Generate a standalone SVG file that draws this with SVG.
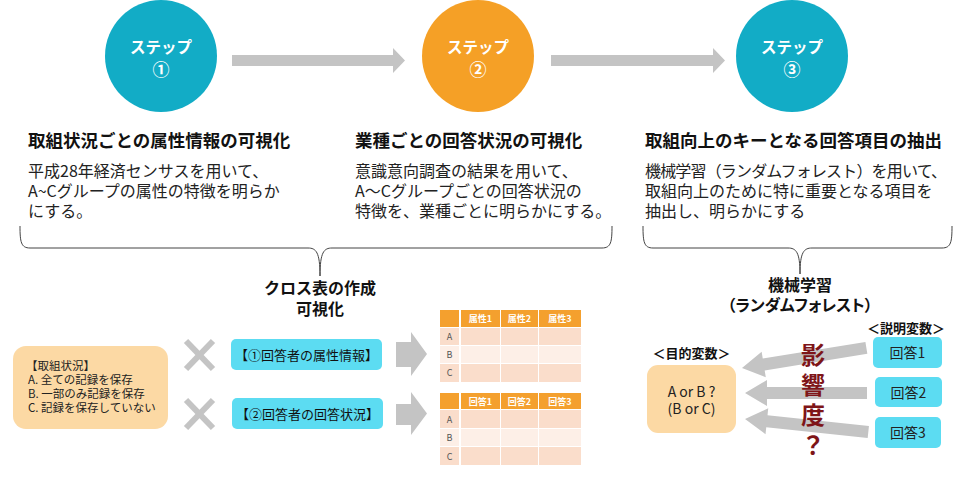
<svg xmlns="http://www.w3.org/2000/svg" width="960" height="480" viewBox="0 0 960 480">
<defs>
<style>
text{font-family:"Noto Sans CJK JP","Noto Sans",sans-serif;}
.stepT{fill:#fff;font-weight:bold;font-size:15.5px;text-anchor:middle;}
.stepN{fill:#fff;font-weight:bold;font-size:17px;text-anchor:middle;}
.head{fill:#111;font-weight:bold;font-size:17.5px;}
.body{fill:#222;font-size:16px;}
.lbl{fill:#111;font-weight:bold;font-size:16px;text-anchor:middle;}
.small{fill:#222;font-size:11.5px;}
.cbox{fill:#5CDCF2;}
.obox{fill:#FCD9A4;}
.gray{fill:#C4C4C4;}
.brace{fill:none;stroke:#444;stroke-width:1;}
.th{fill:#fff;font-weight:bold;font-size:9px;text-anchor:middle;}
.tr{fill:#555;font-size:9px;text-anchor:middle;}
.hdr{fill:#F4A02E;}
.r1{fill:#FADDCB;}
.r2{fill:#FDEFE7;}
.xm{stroke:#C4C4C4;stroke-width:6;}
.ctr{fill:#222;font-size:14px;text-anchor:middle;}
.imp{fill:#7E1518;font-weight:bold;font-size:24px;}
</style>
</defs>
<rect width="960" height="480" fill="#fff"/>

<g id="connectors">
<polygon class="gray" points="232,55 393,55 393,48 405,60.5 393,73 393,66 232,66"/>
<polygon class="gray" points="551,55 713,55 713,48 725,60.5 713,73 713,66 551,66"/>
<path class="brace" d="M20,226 C20,242 21,248 30,248 L308,248 C316,248 320,252 320,276 C320,252 324,248 332,248 L602,248 C611,248 612,242 612,226"/>
<path class="brace" d="M643,226 C643,242 644,248 653,248 L788,248 C796,248 800,252 800,274 C800,252 804,248 812,248 L942,248 C951,248 952,242 952,226"/>
<polygon class="gray" points="396,342 411,342 411,332 427,354 411,376 411,367 396,367"/>
<polygon class="gray" points="396,404 411,404 411,392 427,413.5 411,435 411,425 396,425"/>
<polygon class="gray" transform="translate(742,368) rotate(-9.2)" points="0,0 22,-13 22,-6 126,-6 126,6 22,6 22,13"/>
<polygon class="gray" transform="translate(745,393) rotate(0)" points="0,0 22,-13 22,-6 122,-6 122,6 22,6 22,13"/>
<polygon class="gray" transform="translate(745,419) rotate(6)" points="0,0 22,-13 22,-6 124,-6 124,6 22,6 22,13"/>
</g>

<g id="step1">
<circle cx="161" cy="56" r="56" fill="#12ACC6"/>
<text class="stepT" x="161" y="53">ステップ</text>
<text class="stepN" x="161" y="76">①</text>
</g>
<g id="step2">
<circle cx="478" cy="56" r="56" fill="#F5A026"/>
<text class="stepT" x="478" y="53">ステップ</text>
<text class="stepN" x="478" y="76">②</text>
</g>
<g id="step3">
<circle cx="792" cy="56" r="56" fill="#12ACC6"/>
<text class="stepT" x="792" y="53">ステップ</text>
<text class="stepN" x="792" y="76">③</text>
</g>

<g id="desc1">
<text class="head" x="28" y="147">取組状況ごとの属性情報の可視化</text>
<text class="body"><tspan x="28" y="177">平成28年経済センサスを用いて、</tspan><tspan x="28" y="197">A~Cグループの属性の特徴を明らか</tspan><tspan x="28" y="217">にする。</tspan></text>
</g>
<g id="desc2">
<text class="head" x="355" y="147">業種ごとの回答状況の可視化</text>
<text class="body"><tspan x="355" y="177">意識意向調査の結果を用いて、</tspan><tspan x="355" y="197">A～Cグループごとの回答状況の</tspan><tspan x="355" y="217">特徴を、業種ごとに明らかにする。</tspan></text>
</g>
<g id="desc3">
<text class="head" x="645" y="147" font-size="17">取組向上のキーとなる回答項目の抽出</text>
<text class="body"><tspan x="645" y="177" textLength="302" lengthAdjust="spacing">機械学習（ランダムフォレスト）を用いて、</tspan><tspan x="645" y="197">取組向上のために特に重要となる項目を</tspan><tspan x="645" y="217">抽出し、明らかにする</tspan></text>
</g>

<g id="label-cross">
<text class="lbl"><tspan x="320" y="294">クロス表の作成</tspan><tspan x="320" y="315">可視化</tspan></text>
</g>
<g id="label-ml">
<text class="lbl"><tspan x="800" y="291">機械学習</tspan><tspan x="800" y="311" style="font-feature-settings:'palt'">（ランダムフォレスト）</tspan></text>
</g>

<g id="status-box">
<rect class="obox" x="13" y="346" width="155" height="83" rx="13"/>
<text class="small"><tspan x="26" y="370">【取組状況】</tspan><tspan x="28" y="384">A. 全ての記録を保存</tspan><tspan x="28" y="398">B. 一部のみ記録を保存</tspan><tspan x="28" y="412">C. 記録を保存していない</tspan></text>
</g>

<g id="cross-marks">
<line class="xm" x1="186" y1="341" x2="213" y2="369"/>
<line class="xm" x1="213" y1="341" x2="186" y2="369"/>
<line class="xm" x1="186" y1="400" x2="213" y2="428"/>
<line class="xm" x1="213" y1="400" x2="186" y2="428"/>
</g>

<g id="attr-box">
<rect class="cbox" x="231" y="339" width="151" height="31" rx="5"/>
<text x="306.5" y="359.5" fill="#111" font-size="13" text-anchor="middle">【①回答者の属性情報】</text>
</g>
<g id="answer-box">
<rect class="cbox" x="232" y="398" width="151" height="31" rx="5"/>
<text x="307.5" y="418.5" fill="#111" font-size="13" text-anchor="middle">【②回答者の回答状況】</text>
</g>

<g id="table1">
<rect class="hdr" x="440" y="310" width="19" height="17"/>
<rect class="hdr" x="461" y="310" width="39" height="17"/>
<rect class="hdr" x="501" y="310" width="37" height="17"/>
<rect class="hdr" x="539" y="310" width="42" height="17"/>
<text class="th" x="480.5" y="322">属性1</text>
<text class="th" x="519.5" y="322">属性2</text>
<text class="th" x="560" y="322">属性3</text>
<rect class="r1" x="440" y="328" width="19" height="17"/>
<rect class="r1" x="461" y="328" width="39" height="17"/>
<rect class="r1" x="501" y="328" width="37" height="17"/>
<rect class="r1" x="539" y="328" width="42" height="17"/>
<rect class="r2" x="440" y="346" width="19" height="17"/>
<rect class="r2" x="461" y="346" width="39" height="17"/>
<rect class="r2" x="501" y="346" width="37" height="17"/>
<rect class="r2" x="539" y="346" width="42" height="17"/>
<rect class="r1" x="440" y="364" width="19" height="18"/>
<rect class="r1" x="461" y="364" width="39" height="18"/>
<rect class="r1" x="501" y="364" width="37" height="18"/>
<rect class="r1" x="539" y="364" width="42" height="18"/>
<text class="tr" x="449.5" y="340">A</text>
<text class="tr" x="449.5" y="358">B</text>
<text class="tr" x="449.5" y="376">C</text>
</g>
<g id="table2">
<rect class="hdr" x="440" y="393" width="19" height="16"/>
<rect class="hdr" x="461" y="393" width="39" height="16"/>
<rect class="hdr" x="501" y="393" width="37" height="16"/>
<rect class="hdr" x="539" y="393" width="42" height="16"/>
<text class="th" x="480.5" y="404.5">回答1</text>
<text class="th" x="519.5" y="404.5">回答2</text>
<text class="th" x="560" y="404.5">回答3</text>
<rect class="r1" x="440" y="410" width="19" height="18"/>
<rect class="r1" x="461" y="410" width="39" height="18"/>
<rect class="r1" x="501" y="410" width="37" height="18"/>
<rect class="r1" x="539" y="410" width="42" height="18"/>
<rect class="r2" x="440" y="429" width="19" height="17"/>
<rect class="r2" x="461" y="429" width="39" height="17"/>
<rect class="r2" x="501" y="429" width="37" height="17"/>
<rect class="r2" x="539" y="429" width="42" height="17"/>
<rect class="r1" x="440" y="447" width="19" height="18"/>
<rect class="r1" x="461" y="447" width="39" height="18"/>
<rect class="r1" x="501" y="447" width="37" height="18"/>
<rect class="r1" x="539" y="447" width="42" height="18"/>
<text class="tr" x="449.5" y="422.5">A</text>
<text class="tr" x="449.5" y="441">B</text>
<text class="tr" x="449.5" y="459.5">C</text>
</g>

<g id="target">
<text x="691.5" y="358" fill="#111" font-size="13" font-weight="bold" text-anchor="middle">＜目的変数＞</text>
<rect class="obox" x="647" y="365" width="89" height="68" rx="11"/>
<text class="ctr"><tspan x="691.5" y="397">A or B ?</tspan><tspan x="691.5" y="414">(B or C)</tspan></text>
</g>

<g id="explanatory">
<text x="906" y="333" fill="#111" font-size="13" font-weight="bold" text-anchor="middle">＜説明変数＞</text>
<rect class="cbox" x="873" y="337" width="69" height="31" rx="5"/>
<text class="ctr" x="907.5" y="358">回答1</text>
<rect class="cbox" x="875" y="377" width="67" height="30" rx="5"/>
<text class="ctr" x="908.5" y="397.5">回答2</text>
<rect class="cbox" x="875" y="417" width="66" height="31" rx="5"/>
<text class="ctr" x="908" y="438">回答3</text>
</g>

<g id="importance">
<text class="imp" x="813" y="343" writing-mode="vertical-rl" style="writing-mode:vertical-rl;letter-spacing:6px">影響度？</text>
</g>
</svg>
